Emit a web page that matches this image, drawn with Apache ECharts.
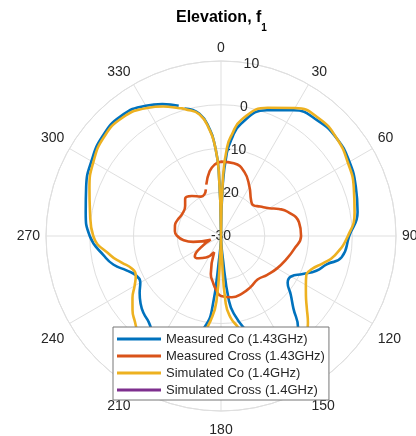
<!DOCTYPE html>
<html>
<head>
<meta charset="utf-8">
<script src="https://cdn.jsdelivr.net/npm/echarts@6/dist/echarts.min.js"></script>
<style>
html, body { margin: 0; padding: 0; background: #fff; }
#chart { width: 416px; height: 436px; }
</style>
</head>
<body>
<div id="chart"></div>
<script>
// angles in degrees, clockwise from the top; gains in dB
var coAngles = [0, 2, 4, 6, 10, 20, 30, 40, 50, 60, 70, 80, 90, 100, 105, 110, 115, 120, 125, 130,
  135, 140, 145, 150, 155, 160, 165, 170, 173, 176, 178, 180, 182, 184, 187, 190, 195, 200, 205, 210,
  215, 220, 225, 230, 235, 240, 245, 250, 255, 260, 270, 280, 290, 300, 310, 320, 330, 336, 342, 343,
  344, 350, 354, 356, 358, 360];

// measured data has a gap where the scan starts / ends (343 deg)
var measuredCo = [-30, -18, -11, -8, -4, 0.6, 3.2, 4.4, 4.6, 3.9, 2.8, 1.7, -0.7, -2.0, -5.0, -6.8, -9.4, -11.5, -11.4, -9.2,
  -6.6, -2.6, -0.2, 0.5, 0, -2.5, -7.5, -11.5, -15, -26, -29, -30, -29, -26, -13, -9, -5.5, -2.5, -0.8, -1.0,
  -2.8, -4.3, -5.0, -6.0, -7.3, -8.7, -8.6, -7.0, -4.6, -3.0, 0.0, 1.4, 2.8, 4.2, 5.4, 5.7, 4.4, 3.0, 1.3, null,
  0.3, -1.6, -5.5, -9, -15, -30];

var simulatedCo = [-30, -16, -9.5, -6.8, -3, 1.2, 3.8, 5.0, 4.6, 3.5, 2.3, 1.0, -1.0, -3.7, -5.9, -7.9, -8.5, -7.6, -6.3, -4.4,
  -1.9, 0.4, 1.4, 1.5, 0.3, -1.8, -4.8, -9.2, -11, -14.5, -27, -30, -27, -15, -10.5, -7.8, -4.5, -1.5, 0.5, 1.2,
  0.9, -0.6, -2.2, -3.6, -5.3, -7.2, -8.5, -8.3, -6.5, -4.4, -0.8, 0.4, 2.0, 3.7, 5.0, 5.2, 3.8, 2.4, 0.7, 0.5,
  0.2, -1.8, -5.8, -9, -15, -30];

var crossAngles = [0, 10, 20, 30, 40, 46, 53, 60, 65, 70, 80, 90, 100, 110, 120, 130, 140, 150, 160, 170,
  180, 185, 190, 195, 203, 215, 225, 232, 240, 250, 258, 264, 270, 276, 283, 290, 300, 310, 316, 324,
  333, 338, 342, 343, 344, 350, 355, 360];

var measuredCross = [-13.0, -13.1, -14.4, -17.0, -19.3, -19.8, -18.8, -17.3, -15.4, -13.8, -11.9, -11.7, -13.0, -14.2, -15.2, -16.2, -17.0, -16.5, -16.0, -15.8,
  -16.3, -17.6, -19.3, -21.0, -26.0, -24.0, -22.8, -22.4, -24.5, -27.5, -23.5, -21.3, -20.0, -19.4, -19.2, -19.4, -19.8, -19.3, -18.2, -18.7,
  -19.9, -19.8, -18.8, null, -17.8, -15.0, -13.6, -13.0];

// simulated cross-pol stays below the -30 dB floor, so nothing of it is drawn
var simulatedCross = [];
var simAngles = [];

var seriesNames = ['Measured Co (1.43GHz)', 'Measured Cross (1.43GHz)', 'Simulated Co (1.4GHz)', 'Simulated Cross (1.4GHz)'];
var colors = ['#0072BD', '#D95319', '#EDB120', '#7E2F8E'];
var rMin = -30, rMax = 10, rStep = 10;

var font = '"Liberation Sans", Arial, Helvetica, sans-serif';
var gridColor = '#dfdfdf';
var textColor = '#262626';

function pairs(angles, values) {
  return values.map(function (v, i) {
    return [v === null ? '-' : v, angles[i]];
  });
}

function lineSeries(idx, angles, values) {
  return {
    name: seriesNames[idx],
    type: 'line',
    coordinateSystem: 'polar',
    polarIndex: 0,
    data: pairs(angles, values),
    symbol: 'none',
    smooth: 0.5,
    connectNulls: false,
    lineStyle: { color: colors[idx], width: 2.6 },
    itemStyle: { color: colors[idx] }
  };
}

var myChart = echarts.init(document.getElementById('chart'));
var option = {
  animation: false,
  backgroundColor: '#fff',
  title: {
    text: '{b|Elevation, f}{s|1}',
    left: 176,
    top: 3,
    padding: 0,
    textStyle: {
      rich: {
        b: { fontSize: 16, fontWeight: 'bold', fontFamily: font, color: '#000', lineHeight: 30 },
        s: { fontSize: 10, fontWeight: 'bold', fontFamily: font, color: '#000', lineHeight: 12, verticalAlign: 'bottom' }
      }
    }
  },
  polar: [
    { center: [221, 236], radius: 175 },
    { center: [221, 236], radius: 175 }
  ],
  angleAxis: [{
    polarIndex: 0,
    type: 'value',
    min: 0,
    max: 360,
    interval: 30,
    startAngle: 90,
    clockwise: true,
    axisLine: { lineStyle: { color: gridColor, width: 1 } },
    axisTick: { show: false },
    axisLabel: { margin: 6, padding: [6, 0, 0, 0], color: textColor, fontSize: 14, fontFamily: font },
    splitLine: { lineStyle: { color: gridColor, width: 1 } }
  }, {
    // only used to place the r labels 10 deg right of the top
    polarIndex: 1,
    type: 'value',
    min: 0,
    max: 360,
    startAngle: 80,
    clockwise: true,
    show: false
  }],
  radiusAxis: [{
    polarIndex: 0,
    type: 'value',
    min: rMin,
    max: rMax,
    interval: rStep,
    axisLine: { show: false },
    axisTick: { show: false },
    axisLabel: { show: false },
    splitLine: { lineStyle: { color: gridColor, width: 1 } }
  }, {
    polarIndex: 1,
    type: 'value',
    min: rMin,
    max: rMax,
    interval: rStep,
    axisLine: { show: false },
    axisTick: { show: false },
    splitLine: { show: false },
    axisLabel: {
      margin: 0, align: 'center', verticalAlign: 'middle',
      color: textColor, fontSize: 14, fontFamily: font
    }
  }],
  legend: {
    orient: 'vertical',
    left: 113,
    top: 327,
    padding: [5, 4, 3, 4],
    itemGap: 3,
    itemWidth: 44,
    itemHeight: 3,
    icon: 'rect',
    backgroundColor: '#fff',
    borderColor: '#777',
    borderWidth: 1,
    borderRadius: 0,
    textStyle: { fontSize: 13, fontFamily: font, color: textColor, lineHeight: 14 },
    data: seriesNames
  },
  series: [
    lineSeries(0, coAngles, measuredCo),
    lineSeries(1, crossAngles, measuredCross),
    lineSeries(2, coAngles, simulatedCo),
    lineSeries(3, simAngles, simulatedCross)
  ]
};
myChart.setOption(option);
</script>
</body>
</html>
